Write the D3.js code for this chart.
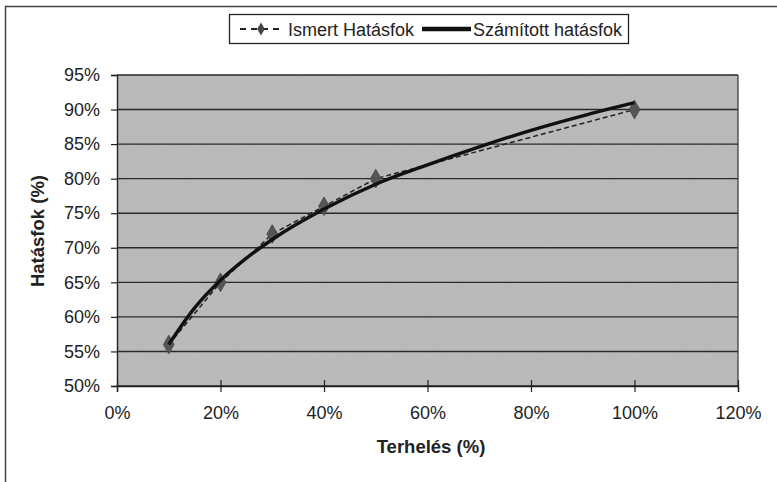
<!DOCTYPE html>
<html>
<head>
<meta charset="utf-8">
<script src="https://cdn.jsdelivr.net/npm/d3@7"></script>
<style>
  body { margin: 0; background: #fff; }
  text { font-family: "Liberation Sans", Arial, sans-serif; fill: #222; }
</style>
</head>
<body>
<div id="container"></div>
<script>
// measured points (Ismert Hatásfok)
const knownLoad = [10, 20, 30, 40, 50, 100];
const knownEff = [56, 65, 72, 76, 80, 90];

// fitted curve (Számított hatásfok)
const calcLoad = [10, 15, 20, 25, 30, 40, 50, 60, 70, 80, 90, 100];
const calcEff = [56, 61.3, 65.3, 68.5, 71.2, 75.6, 79.2, 82, 84.6, 87, 89.1, 91];

const xTicks = [0, 20, 40, 60, 80, 100, 120];
const yTicks = [50, 55, 60, 65, 70, 75, 80, 85, 90, 95];

const W = 777, H = 482;
const margin = { top: 75, right: 39, bottom: 96, left: 117 };
const width = W - margin.left - margin.right;
const height = H - margin.top - margin.bottom;

const svg = d3.select("#container").append("svg")
  .attr("width", W).attr("height", H);

// outer chart frame
svg.append("rect")
  .attr("x", 5.5).attr("y", 6.5).attr("width", W + 10).attr("height", H + 10)
  .attr("fill", "none").attr("stroke", "#444").attr("stroke-width", 1.5);

const defs = svg.append("defs");
const f = defs.append("filter").attr("id", "grain").attr("x", 0).attr("y", 0).attr("width", 1).attr("height", 1);
f.append("feTurbulence").attr("type", "fractalNoise").attr("baseFrequency", 0.9).attr("numOctaves", 2).attr("seed", 3).attr("result", "n");
f.append("feColorMatrix").attr("in", "n").attr("type", "matrix")
  .attr("values", "0 0 0 0 0.45  0 0 0 0 0.45  0 0 0 0 0.45  0 0 0 0.55 0").attr("result", "g");
f.append("feComposite").attr("in", "g").attr("in2", "SourceGraphic").attr("operator", "atop");

const g = svg.append("g").attr("transform", `translate(${margin.left},${margin.top})`);

const x = d3.scaleLinear().domain([0, 120]).range([0, width]);
const y = d3.scaleLinear().domain([50, 95]).range([height, 0]);

// plot area
g.append("rect").attr("width", width).attr("height", height)
  .attr("fill", "#bcbcbc").attr("filter", "url(#grain)");

// horizontal grid
g.append("g").selectAll("line").data(yTicks).join("line")
  .attr("x1", 0).attr("x2", width)
  .attr("y1", d => y(d)).attr("y2", d => y(d))
  .attr("stroke", "#2a2a2a").attr("stroke-width", 1.4);

// right border of plot
g.append("line").attr("x1", width).attr("x2", width).attr("y1", 0).attr("y2", height)
  .attr("stroke", "#333").attr("stroke-width", 1.2);

// axes
const yAxis = g.append("g").call(d3.axisLeft(y).tickValues(yTicks).tickSize(6).tickPadding(11).tickFormat(d => d + "%"));
const xAxis = g.append("g").attr("transform", `translate(0,${height})`)
  .call(d3.axisBottom(x).tickValues(xTicks).tickSize(6).tickPadding(14).tickFormat(d => d + "%"));
[xAxis, yAxis].forEach(a => {
  a.select(".domain").attr("stroke", "#222").attr("stroke-width", 1.4);
  a.selectAll(".tick line").attr("stroke", "#222").attr("stroke-width", 1.2);
  a.selectAll("text").attr("font-size", 18).attr("fill", "#222")
    .attr("font-family", "'Liberation Sans', Arial, sans-serif");
});
xAxis.selectAll(".tick line").attr("y1", -6).attr("y2", 6);

// axis titles
svg.append("text").attr("x", 431).attr("y", 453)
  .attr("text-anchor", "middle").attr("font-size", 18.5).attr("font-weight", "bold")
  .text("Terhelés (%)");
svg.append("text").attr("transform", `translate(44,231) rotate(-90)`)
  .attr("text-anchor", "middle").attr("font-size", 18.5).attr("font-weight", "bold")
  .text("Hatásfok (%)");

// series
const known = knownLoad.map((d, i) => [d, knownEff[i]]);
const calc = calcLoad.map((d, i) => [d, calcEff[i]]);

g.append("path").datum(known)
  .attr("d", d3.line().x(d => x(d[0])).y(d => y(d[1])))
  .attr("fill", "none").attr("stroke", "#222").attr("stroke-width", 1.5).attr("stroke-dasharray", "5,3");

g.selectAll(".mk").data(known).join("path").attr("class", "mk")
  .attr("transform", d => `translate(${x(d[0])},${y(d[1])})`)
  .attr("d", d3.symbol(d3.symbolDiamond, 100))
  .attr("fill", "#555").attr("stroke", "#444").attr("stroke-width", 0.8);

g.append("path").datum(calc)
  .attr("d", d3.line().curve(d3.curveMonotoneX).x(d => x(d[0])).y(d => y(d[1])))
  .attr("fill", "none").attr("stroke", "#111").attr("stroke-width", 3.4);

// legend
const lg = svg.append("g").attr("transform", "translate(229,14)");
lg.append("rect").attr("x", 0.5).attr("y", 0.5).attr("width", 399).attr("height", 29)
  .attr("fill", "#fff").attr("stroke", "#222").attr("stroke-width", 1.3);
lg.append("line").attr("x1", 11).attr("x2", 53).attr("y1", 15).attr("y2", 15)
  .attr("stroke", "#222").attr("stroke-width", 1.8).attr("stroke-dasharray", "6,5");
lg.append("path").attr("transform", "translate(32,15)").attr("d", d3.symbol(d3.symbolDiamond, 50))
  .attr("fill", "#444");
lg.append("text").attr("x", 59).attr("y", 21.5).attr("font-size", 18).text("Ismert Hatásfok");
lg.append("line").attr("x1", 193).attr("x2", 242).attr("y1", 15).attr("y2", 15)
  .attr("stroke", "#111").attr("stroke-width", 4.5);
lg.append("text").attr("x", 244).attr("y", 21.5).attr("font-size", 18).text("Számított hatásfok");
</script>
</body>
</html>
